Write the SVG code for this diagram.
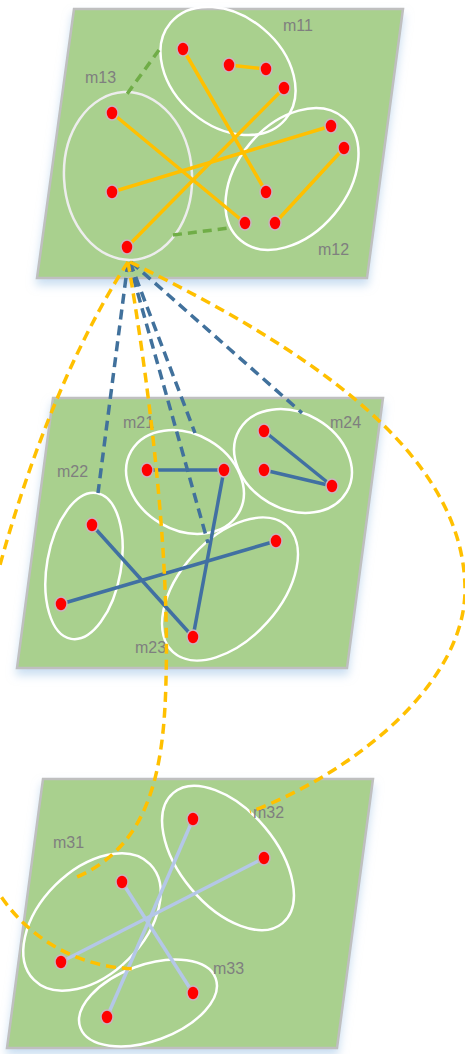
<svg xmlns="http://www.w3.org/2000/svg" width="465" height="1054" viewBox="0 0 465 1054">
<style>
.plane{fill:#A9D08E;stroke:#BFBFBF;stroke-width:2.5;filter:url(#sh)}
.cl{fill:none;stroke:#FFFFFF;stroke-width:2.5}
.lbl{font-family:"Liberation Sans",Arial,sans-serif;font-size:16px;fill:#7F7F7F}
.dot{fill:#FF0000;stroke:#C8B4BE;stroke-width:1.5}
.e1{stroke:#FFC000;stroke-width:3.5;fill:none}
.e2{stroke:#4170A2;stroke-width:3.5;fill:none}
.e3{stroke:#B4C7E7;stroke-width:3.5;fill:none}
.dg{stroke:#70AD47;stroke-width:3.5;fill:none;stroke-dasharray:9 6}
.db{stroke:#41719C;stroke-width:3.5;fill:none;stroke-dasharray:10 6}
.do{stroke:#FFC000;stroke-width:3.5;fill:none;stroke-dasharray:10 6}
</style>
<defs>
<filter id="sh" x="-10%" y="-10%" width="120%" height="130%">
<feDropShadow dx="0" dy="6" stdDeviation="5" flood-color="#9DC3E6" flood-opacity="0.55"/>
</filter>
</defs>
<rect width="465" height="1054" fill="#FFFFFF"/>
<g id="plane1">
<polygon class="plane" points="74,9 403,9 367,278 37,278"/>
<g id="m11"><ellipse class="cl" cx="228" cy="71" rx="75" ry="55" transform="rotate(40 228 71)"/><text class="lbl" x="283" y="31">m11</text></g>
<g id="m12"><ellipse class="cl" cx="292" cy="179" rx="80" ry="55" transform="rotate(-50 292 179)"/><text class="lbl" x="318" y="255">m12</text></g>
<g id="m13"><ellipse class="cl" cx="128" cy="176" rx="64" ry="84" transform="rotate(-3 128 176)" style="stroke:#EDEDED"/><text class="lbl" x="85" y="83">m13</text></g>
</g>
<g id="plane2">
<polygon class="plane" points="53,398 383,398 347,668 17,668"/>
<g id="m21"><ellipse class="cl" cx="185" cy="482" rx="62" ry="48" transform="rotate(30 185 482)"/><text class="lbl" x="123" y="428">m21</text></g>
<g id="m22"><ellipse class="cl" cx="84" cy="566" rx="37" ry="74" transform="rotate(10 84 566)"/><text class="lbl" x="57" y="477">m22</text></g>
<g id="m23"><ellipse class="cl" cx="230" cy="589" rx="85" ry="50" transform="rotate(-48 230 589)"/><text class="lbl" x="135" y="653">m23</text></g>
<g id="m24"><ellipse class="cl" cx="293" cy="461" rx="62" ry="48" transform="rotate(30 293 461)"/><text class="lbl" x="330" y="428">m24</text></g>
</g>
<g id="plane3">
<polygon class="plane" points="43,779 373,779 337,1048 7,1048"/>
<g id="m31"><ellipse class="cl" cx="92" cy="922" rx="82" ry="52" transform="rotate(-45 92 922)"/><text class="lbl" x="53" y="848">m31</text></g>
<g id="m32"><ellipse class="cl" cx="228" cy="858" rx="85" ry="48" transform="rotate(50 228 858)"/><text class="lbl" x="253" y="818">m32</text></g>
<g id="m33"><ellipse class="cl" cx="148" cy="1003" rx="72" ry="38" transform="rotate(-20 148 1003)"/><text class="lbl" x="213" y="974">m33</text></g>
</g>
<g id="connectors">
<line class="e1" x1="183" y1="49" x2="266" y2="192"/>
<line class="e1" x1="229" y1="65" x2="266" y2="69"/>
<line class="e1" x1="284" y1="88" x2="127" y2="247"/>
<line class="e1" x1="331" y1="126" x2="112" y2="192"/>
<line class="e1" x1="344" y1="148" x2="275" y2="223"/>
<line class="e1" x1="112" y1="113" x2="245" y2="223"/>
<line class="e2" x1="147" y1="470" x2="224" y2="470"/>
<line class="e2" x1="264" y1="431" x2="332" y2="486"/>
<line class="e2" x1="264" y1="470" x2="332" y2="486"/>
<line class="e2" x1="92" y1="525" x2="193" y2="637"/>
<line class="e2" x1="61" y1="604" x2="276" y2="541"/>
<line class="e2" x1="224" y1="470" x2="193" y2="637"/>
<line class="e3" x1="193" y1="819" x2="107" y2="1017"/>
<line class="e3" x1="264" y1="858" x2="61" y2="962"/>
<line class="e3" x1="122" y1="882" x2="193" y2="993"/>
<line class="dg" x1="159" y1="50" x2="127" y2="94"/>
<line class="dg" x1="173" y1="235" x2="229" y2="228"/>
<path class="db" d="M128,262 L98,493"/>
<path class="db" d="M129,262 L208,543"/>
<path class="db" d="M130,262 L195,433"/>
<path class="db" d="M131,262 L302,413"/>
<path class="do" d="M128,262 C90,320 40,420 0,565 C-35,660 -50,820 0,895 C30,940 80,968 137,969"/>
<path class="do" d="M128,262 C145,360 170,540 166,680 C164,770 150,845 77,877"/>
<path class="do" d="M130,262 C300,345 465,450 465,590 C465,680 360,770 250,812"/>
</g>
<g id="dots">
<g id="n11a"><ellipse class="dot" cx="183" cy="49" rx="6" ry="7"/></g>
<g id="n11b"><ellipse class="dot" cx="229" cy="65" rx="6" ry="7"/></g>
<g id="n11c"><ellipse class="dot" cx="266" cy="69" rx="6" ry="7"/></g>
<g id="n11d"><ellipse class="dot" cx="284" cy="88" rx="6" ry="7"/></g>
<g id="n12a"><ellipse class="dot" cx="331" cy="126" rx="6" ry="7"/></g>
<g id="n12b"><ellipse class="dot" cx="344" cy="148" rx="6" ry="7"/></g>
<g id="n12c"><ellipse class="dot" cx="266" cy="192" rx="6" ry="7"/></g>
<g id="n12d"><ellipse class="dot" cx="245" cy="223" rx="6" ry="7"/></g>
<g id="n12e"><ellipse class="dot" cx="275" cy="223" rx="6" ry="7"/></g>
<g id="n13a"><ellipse class="dot" cx="112" cy="113" rx="6" ry="7"/></g>
<g id="n13b"><ellipse class="dot" cx="112" cy="192" rx="6" ry="7"/></g>
<g id="n13c"><ellipse class="dot" cx="127" cy="247" rx="6" ry="7"/></g>
<g id="n21a"><ellipse class="dot" cx="147" cy="470" rx="6" ry="7"/></g>
<g id="n21b"><ellipse class="dot" cx="224" cy="470" rx="6" ry="7"/></g>
<g id="n24a"><ellipse class="dot" cx="264" cy="431" rx="6" ry="7"/></g>
<g id="n24b"><ellipse class="dot" cx="264" cy="470" rx="6" ry="7"/></g>
<g id="n24c"><ellipse class="dot" cx="332" cy="486" rx="6" ry="7"/></g>
<g id="n22a"><ellipse class="dot" cx="92" cy="525" rx="6" ry="7"/></g>
<g id="n22b"><ellipse class="dot" cx="61" cy="604" rx="6" ry="7"/></g>
<g id="n23a"><ellipse class="dot" cx="276" cy="541" rx="6" ry="7"/></g>
<g id="n23b"><ellipse class="dot" cx="193" cy="637" rx="6" ry="7"/></g>
<g id="n32a"><ellipse class="dot" cx="193" cy="819" rx="6" ry="7"/></g>
<g id="n32b"><ellipse class="dot" cx="264" cy="858" rx="6" ry="7"/></g>
<g id="n31a"><ellipse class="dot" cx="122" cy="882" rx="6" ry="7"/></g>
<g id="n31b"><ellipse class="dot" cx="61" cy="962" rx="6" ry="7"/></g>
<g id="n33a"><ellipse class="dot" cx="193" cy="993" rx="6" ry="7"/></g>
<g id="n33b"><ellipse class="dot" cx="107" cy="1017" rx="6" ry="7"/></g>
</g>
</svg>
